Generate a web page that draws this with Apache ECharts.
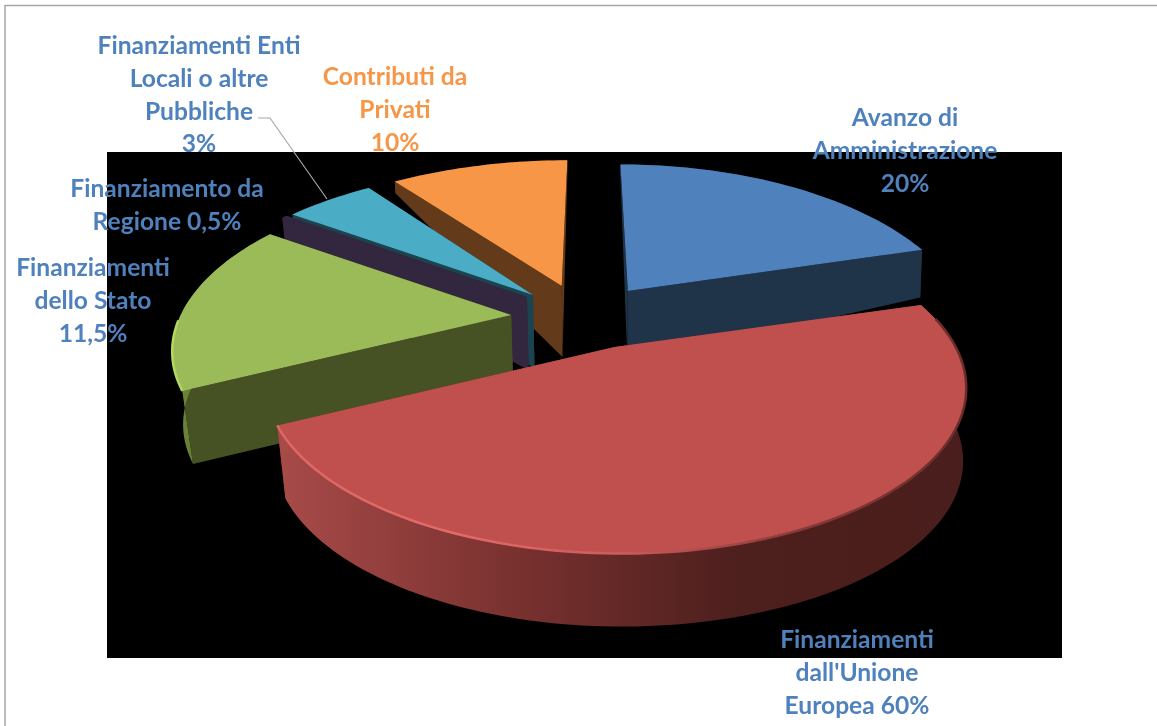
<!DOCTYPE html>
<html>
<head>
<meta charset="utf-8">
<title>Fonti di finanziamento</title>
<script src="https://cdn.jsdelivr.net/npm/echarts@6/dist/echarts.min.js"></script>
<style>
  html, body { margin: 0; padding: 0; background: #fff; }
  #chart { width: 1157px; height: 726px; }
</style>
</head>
<body>
<div id="chart"></div>
<script>
// dati: le fette disegnate non seguono le percentuali scritte nelle etichette
const sliceNames = ['Avanzo di Amministrazione', "Finanziamenti dall'Unione Europea", 'Finanziamenti dello Stato', 'Finanziamento da Regione', 'Finanziamenti Enti Locali o altre Pubbliche', 'Contributi da Privati']
const sliceShares = [20.5, 47.2, 16.7, 0.3, 5.0, 10.3]
const labelTexts = [
  'Avanzo di\nAmministrazione\n20%',
  "Finanziamenti\ndall'Unione\nEuropea 60%",
  'Finanziamenti\ndello Stato\n11,5%',
  'Finanziamento da\nRegione 0,5%',
  'Finanziamenti Enti\nLocali o altre\nPubbliche\n3%',
  'Contributi da\nPrivati\n10%'
]

// posizione delle etichette (centro x, y della prima riga)
const labelPos = [[905, 102], [857, 624], [93, 252], [167, 173], [199, 30], [395, 61]]
const labelColors = ['#4F81BD', '#4F81BD', '#4F81BD', '#4F81BD', '#4F81BD', '#F79646']

// stacco delle fette e raggi in unita del raggio
const explodeX = [0.117, 0.07, -0.235, -0.193, -0.175, -0.088]
const explodeY = [0.123, -0.22, -0.031, 0.084, 0.096, 0.156]
const radiusX = [1.02, 0.97, 0.985, 1.06, 1.06, 1.06]
const radiusY = [1.05, 0.9, 0.985, 1.06, 1.06, 1.06]
// il raggio cresce verso il fondo solo per la fetta verde
const backGain = [0, 0, 0.07, 0, 0, 0]

// colori: faccia superiore, pareti, bordo esterno, riflesso
const topColors = ['#4F81BD', '#C0504D', '#9BBB59', '#32273F', '#4BACC6', '#F79646']
const wallColors = ['#1F3349', '#7A3230', '#465124', '#32273F', '#1C4450', '#633B1B']
const sideStops = [
  ['#1F3349', '#1F3349'],
  ['#A84B49', '#7A3230', '#4D1F1D', '#4A1E1C'],
  ['#6F8A38', '#465124'],
  ['#32273F', '#32273F'],
  ['#1C4450', '#1C4450'],
  ['#633B1B', '#633B1B']
]
const rimStops = [
  null,
  ['#DE6664', '#E46A68', '#CC5C5A', '#8A3A38', '#6A2C2A'],
  ['#B4D95F', '#9BBB59'],
  null,
  null,
  null
]

// ordine di disegno, da dietro verso davanti
const drawOrder = [5, 4, 3, 0, 2, 1]

const cx = 590
const cy = 310
const rx = 333
const ry = 159
const persp = 0.24

const project = (X, Y) => {
  const w = 1 + persp * Y
  return [cx + rx * X / w, cy - ry * Y / w]
}

// spessore visibile: si riduce verso il fondo della torta
const depthAt = (Y) => Math.max(12, Math.min(73, 85 - 90 * Y))

const lower = (p, Y) => {
  const d = depthAt(Y)
  const lean = p[0] < cx ? 0.025 : 0.008
  return [p[0] + (cx - p[0]) * lean * d / 70, p[1] + d]
}

const gradient = (stops, x1, x2) => ({
  type: 'linear',
  x: x1,
  y: 0,
  x2: x2,
  y2: 0,
  global: true,
  colorStops: stops.map((c, i) => ({ offset: i / (stops.length - 1), color: c }))
})

const startAngles = []
sliceShares.reduce((sum, v, i) => {
  startAngles[i] = sum / 100 * Math.PI * 2
  return sum + v
}, 0)

const renderSlice = (params, api) => {
  const i = api.value(0)
  const from = startAngles[i]
  const to = from + api.value(1) / 100 * Math.PI * 2
  const ex = explodeX[i]
  const ey = explodeY[i]

  const steps = Math.max(4, Math.ceil((to - from) * 40))
  const top = []
  const bottom = []
  const rim = []
  for (let s = 0; s <= steps; s++) {
    const a = from + (to - from) * s / steps
    const grow = 1 + backGain[i] * Math.cos(a)
    const X = ex + Math.sin(a) * radiusX[i] * grow
    const Y = ey + Math.cos(a) * radiusY[i] * grow
    const p = project(X, Y)
    top.push(p)
    bottom.push(lower(p, Y))
    if (Y < -0.05) rim.push(p)
  }
  const apex = project(ex, ey)
  const apexLow = lower(apex, ey)

  const xs = top.map((p) => p[0])
  const x1 = Math.min(...xs)
  const x2 = Math.max(...xs)

  const children = []
  // pareti radiali
  children.push({
    type: 'polygon',
    shape: { points: [apex, top[0], bottom[0], apexLow] },
    style: { fill: wallColors[i] }
  })
  children.push({
    type: 'polygon',
    shape: { points: [apex, top[steps], bottom[steps], apexLow] },
    style: { fill: wallColors[i] }
  })
  // bordo esterno
  children.push({
    type: 'polygon',
    shape: { points: top.concat(bottom.slice().reverse()) },
    style: { fill: gradient(sideStops[i], x1, x2) }
  })
  // faccia superiore
  children.push({
    type: 'polygon',
    shape: { points: [apex].concat(top) },
    style: { fill: topColors[i] }
  })
  if (rimStops[i] && rim.length > 1) {
    children.push({
      type: 'polyline',
      shape: { points: rim },
      style: { fill: 'none', stroke: gradient(rimStops[i], x1, x2), lineWidth: 2.5 }
    })
  }
  return { type: 'group', children }
}

const chart = echarts.init(document.getElementById('chart'), null, { renderer: 'canvas' })

const labelGraphics = labelTexts.map((text, i) => ({
  type: 'text',
  z: 20,
  x: labelPos[i][0],
  y: labelPos[i][1],
  style: {
    text,
    fill: labelColors[i],
    font: 'bold 24.6px Lato',
    align: 'center',
    verticalAlign: 'top',
    lineHeight: 32.7
  }
}))

chart.setOption({
  animation: false,
  backgroundColor: '#ffffff',
  graphic: [
    // cornice e sfondo nero dell'area del tracciato
    { type: 'polyline', z: 0, shape: { points: [[5, 726], [5, 5.5], [1157, 5.5]] }, style: { fill: 'none', stroke: '#A6A6A6', lineWidth: 1.5 } },
    { type: 'rect', z: 0, shape: { x: 107, y: 152, width: 955, height: 506 }, style: { fill: '#000000' } },
    ...labelGraphics,
    // linea guida dell'etichetta Enti Locali
    { type: 'polyline', z: 20, shape: { points: [[258, 118], [270, 118], [327, 199]] }, style: { fill: 'none', stroke: '#A6A6A6', lineWidth: 1.2 } }
  ],
  series: [
    {
      type: 'custom',
      coordinateSystem: 'none',
      renderItem: renderSlice,
      data: drawOrder.map((i) => ({ name: sliceNames[i], value: [i, sliceShares[i]] }))
    }
  ]
})
</script>
</body>
</html>
